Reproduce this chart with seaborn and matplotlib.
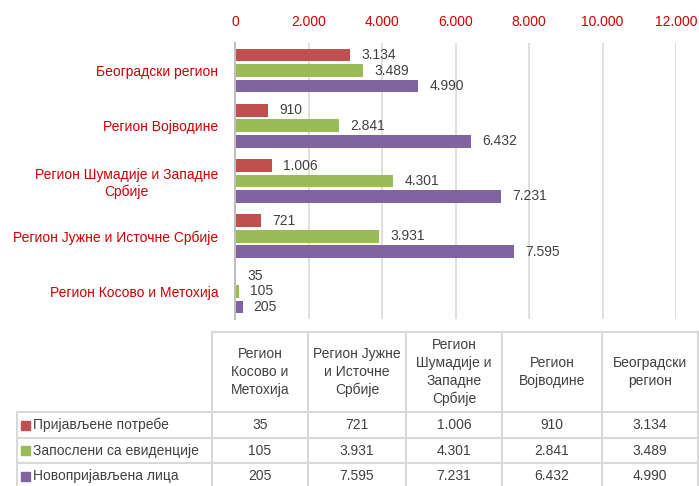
import matplotlib.pyplot as plt
import pandas as pd
import seaborn as sns
from matplotlib.lines import Line2D
from matplotlib.patches import Rectangle

# table order (Excel draws first category at the bottom)
categories = ['Регион Косово и Метохија', 'Регион Јужне и Источне Србије',
              'Регион Шумадије и Западне Србије', 'Регион Војводине', 'Београдски регион']
axis_labels = ['Регион Косово и Метохија', 'Регион Јужне и Источне Србије',
               'Регион Шумадије и Западне\nСрбије', 'Регион Војводине', 'Београдски регион']
header_labels = ['Регион\nКосово и\nМетохија', 'Регион Јужне\nи Источне\nСрбије',
                 'Регион\nШумадије и\nЗападне\nСрбије', 'Регион\nВојводине', 'Београдски\nрегион']
series = ['Пријављене потребе', 'Запослени са евиденције', 'Новопријављена лица']
prijavljene = [35, 721, 1006, 910, 3134]
zaposleni = [105, 3931, 4301, 2841, 3489]
novoprijavljena = [205, 7595, 7231, 6432, 4990]
colors = ['#C0504D', '#9BBB59', '#8064A2']
ticks = [0, 2000, 4000, 6000, 8000, 10000, 12000]

values = [prijavljene, zaposleni, novoprijavljena]
df = pd.DataFrame({
    'region': categories * 3,
    'series': [s for s in series for _ in categories],
    'value': prijavljene + zaposleni + novoprijavljena,
})


def fmt(v):
    return f'{v:,.0f}'.replace(',', '.')


sns.set_style('white')
plt.rcParams['font.family'] = ['Liberation Sans', 'DejaVu Sans']
FS = 10

W, H = 699, 486
fig = plt.figure(figsize=(W / 100, H / 100), dpi=100)
ax = fig.add_axes([235 / W, 1 - 319 / H, 441 / W, 276 / H])

sns.barplot(data=df, y='region', x='value', hue='series', order=categories[::-1],
            hue_order=series, palette=colors, orient='h', width=0.84, gap=0.18,
            legend=False, ax=ax, edgecolor='none', saturation=1)

for cont in ax.containers:
    ax.bar_label(cont, labels=[fmt(b.get_width()) for b in cont], padding=8,
                 fontsize=FS, color='#404040')

ax.set_xlim(0, 12000)
ax.set_xticks(ticks)
ax.set_xticklabels([fmt(t) for t in ticks], color='#CC0000', fontsize=FS)
ax.xaxis.tick_top()
ax.tick_params(axis='x', length=0, pad=10)
ax.tick_params(axis='y', length=0, pad=12)
ax.set_yticks(range(len(categories)))
ax.set_yticklabels(axis_labels[::-1], color='#CC0000', fontsize=FS)
for lab in ax.get_yticklabels():
    lab.set_multialignment('center')
ax.set_xlabel('')
ax.set_ylabel('')
ax.grid(axis='x', color='#D9D9D9', lw=1.2)
ax.set_axisbelow(True)
for s in ['top', 'right', 'bottom']:
    ax.spines[s].set_visible(False)
ax.spines['left'].set_color('#BFBFBF')
ax.spines['left'].set_linewidth(1.5)


# data table below the chart, in pixel coordinates
def fx(x):
    return x / W


def fy(y):
    return 1 - y / H


line_c = '#D9D9D9'
cols = [212, 308, 406, 502, 602, 698]
rows = [332, 412, 438, 463, 489]
label_left = 17


def hline(x0, x1, y):
    fig.add_artist(Line2D([fx(x0), fx(x1)], [fy(y), fy(y)], color=line_c, lw=1.5))


def vline(x, y0, y1):
    fig.add_artist(Line2D([fx(x), fx(x)], [fy(y0), fy(y1)], color=line_c, lw=1.5))


hline(cols[0], cols[-1], rows[0])
for y in rows[1:]:
    hline(label_left, cols[-1], y)
for x in cols:
    vline(x, rows[0], rows[-1])
vline(label_left, rows[1], rows[-1])

for i, h in enumerate(header_labels):
    cx = (cols[i] + cols[i + 1]) / 2
    fig.text(fx(cx), fy((rows[0] + rows[1]) / 2), h, ha='center', va='center',
             fontsize=FS, color='#404040', linespacing=1.35)

for r, (name, vals, c) in enumerate(zip(series, values, colors)):
    cy = (rows[r + 1] + rows[r + 2]) / 2
    fig.add_artist(Rectangle((fx(21), fy(cy + 4.5)), 9 / W, 9 / H, color=c,
                             transform=fig.transFigure))
    fig.text(fx(33), fy(cy), name, ha='left', va='center', fontsize=FS, color='#404040')
    for i, v in enumerate(vals):
        cx = (cols[i] + cols[i + 1]) / 2
        fig.text(fx(cx), fy(cy), fmt(v), ha='center', va='center',
                 fontsize=FS, color='#404040')

fig.savefig('out.png', dpi=100)
